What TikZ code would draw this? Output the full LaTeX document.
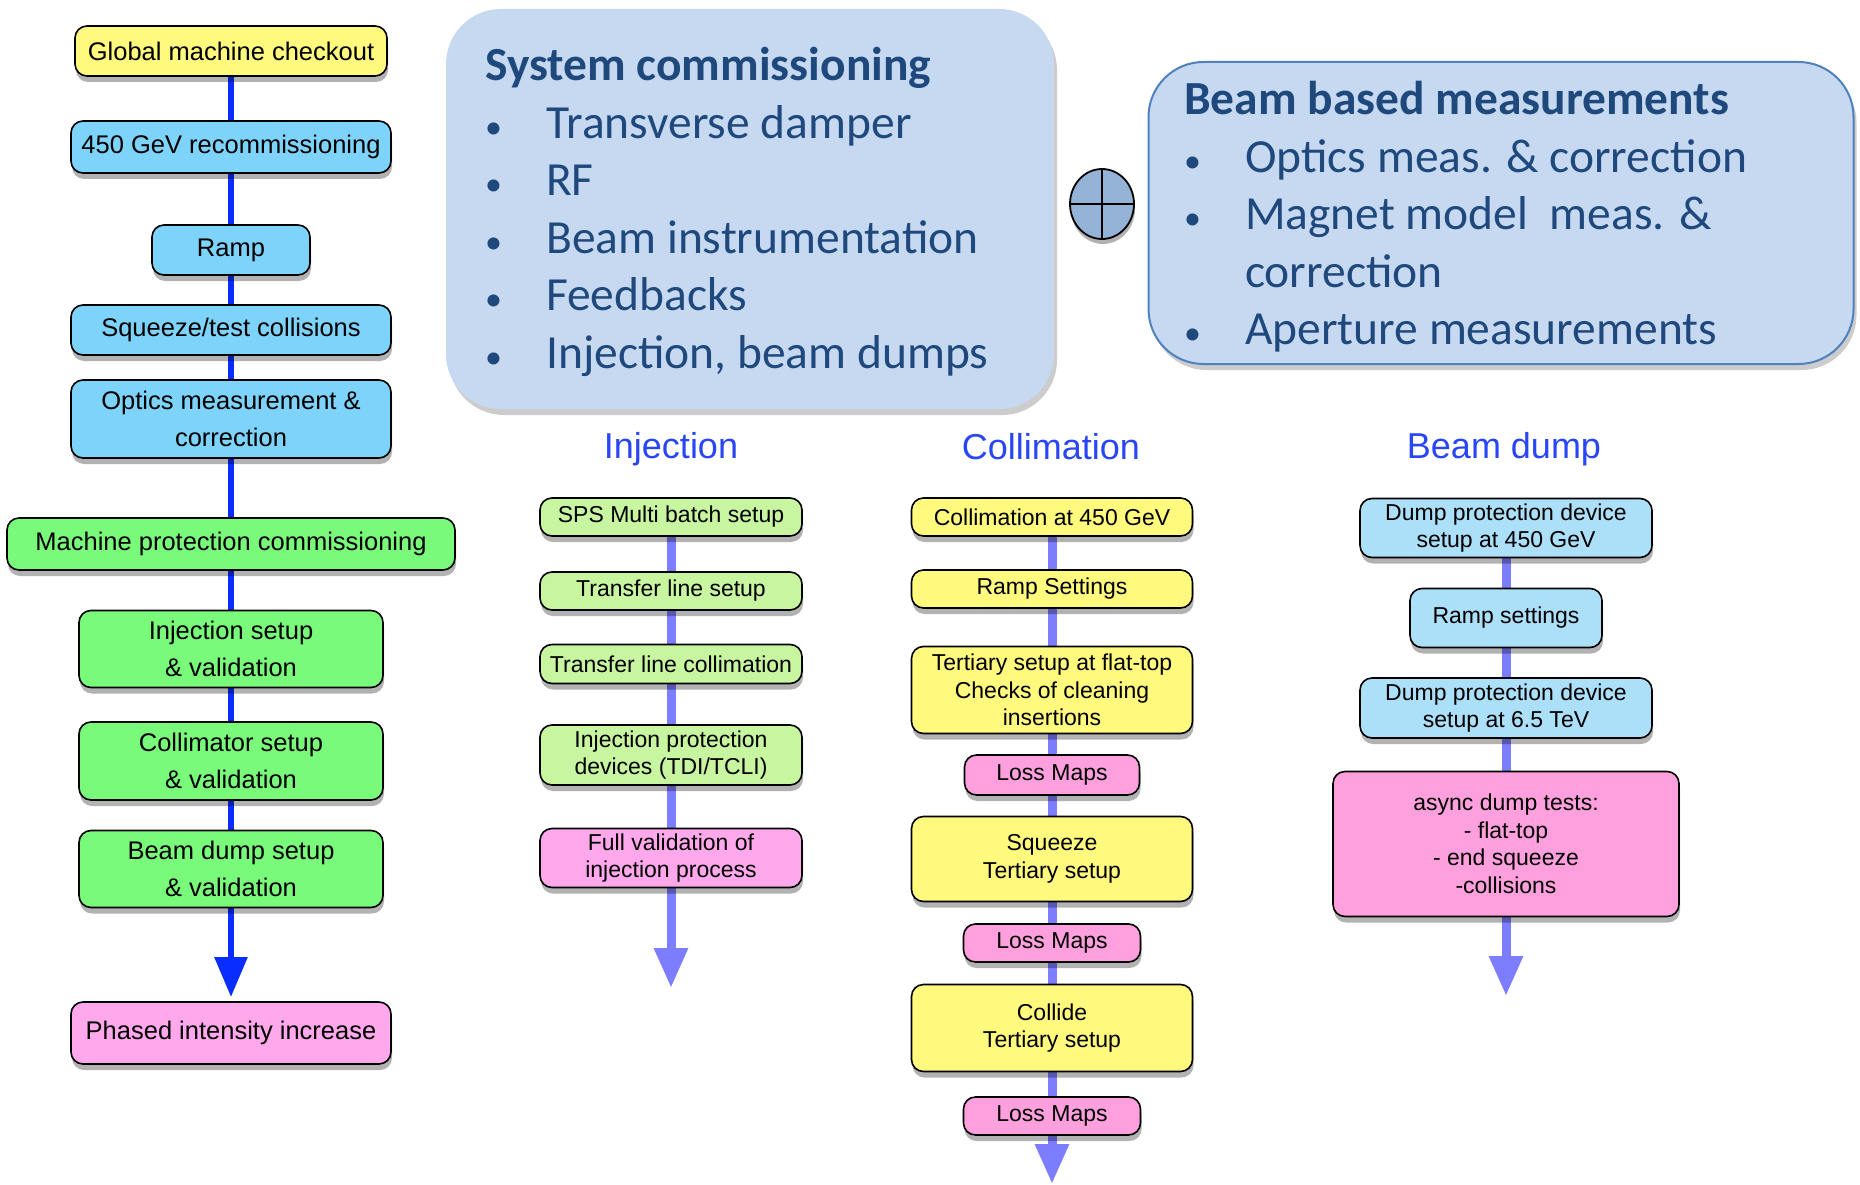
\documentclass[tikz,border=0pt]{standalone}
\usepackage{fontspec}
\setmainfont{Liberation Sans}
\newfontfamily\calibri{Carlito}
\usetikzlibrary{backgrounds}
\usetikzlibrary{positioning}
\usetikzlibrary{arrows.meta}
\usetikzlibrary{shadows}
\usetikzlibrary{shapes.geometric}
\definecolor{yel}{RGB}{255,250,125}
\definecolor{sky}{RGB}{125,211,250}
\definecolor{palesky}{RGB}{172,223,248}
\definecolor{grn}{RGB}{122,250,122}
\definecolor{palegrn}{RGB}{200,245,160}
\definecolor{pnk}{RGB}{255,168,236}
\definecolor{loss}{RGB}{255,160,222}
\definecolor{deepline}{RGB}{10,45,255}
\definecolor{softline}{RGB}{125,125,255}
\definecolor{panelfill}{RGB}{198,217,241}
\definecolor{panelrim}{RGB}{79,129,189}
\definecolor{navy}{RGB}{31,73,125}
\definecolor{headblue}{RGB}{40,70,245}
\definecolor{plusfill}{RGB}{149,179,215}
\newcommand{\dotitem}{\makebox[61pt][l]{\fontsize{34}{34}\selectfont\textbullet}}

\begin{document}
\begin{tikzpicture}[
            x = 1pt, y = -1pt, % one unit per pixel, y downwards
            > = {Triangle[length=40pt, width=32pt]}, % arrow head style
            line cap = butt
        ]

        \tikzstyle{stage}=[
            draw, line width = 1.6pt,
            rounded corners = 12pt,
            align = center, inner sep = 0pt,
            drop shadow = {fill=black, opacity=0.3, shadow xshift=1pt, shadow yshift=-6pt}
        ]
        \tikzstyle{lstage}=[stage, font=\fontsize{25.5}{37}\selectfont]
        \tikzstyle{rstage}=[stage, font=\fontsize{23}{27.5}\selectfont]
        \tikzstyle{head}=[text=headblue, font=\fontsize{36}{36}\selectfont]
        \tikzstyle{panel}=[
            rounded corners = 55pt, fill = panelfill, inner sep = 0pt,
            drop shadow = {fill=black, opacity=0.2, shadow xshift=3pt, shadow yshift=-6pt}
        ]
        \tikzstyle{lines}=[anchor=west, align=left, inner sep=0pt, text=navy,
            font=\calibri\fontsize{47.5}{57.5}\selectfont]
        \tikzstyle{deep}=[deepline, line width=6pt]
        \tikzstyle{soft}=[softline, line width=9pt]

        \useasboundingbox (0,0) rectangle (1860,1185);

        % overall sequence
        \node[lstage, fill=yel, minimum width=312pt, minimum height=50pt] (GMC) at (231,51) {Global machine checkout};
        \node[lstage, fill=sky, minimum width=320pt, minimum height=52pt] (RC) at (231,147) {450 GeV recommissioning};
        \node[lstage, fill=sky, minimum width=158pt, minimum height=50pt] (RP) at (231,250) {Ramp};
        \node[lstage, fill=sky, minimum width=320pt, minimum height=50pt] (SQ) at (231,330) {Squeeze/test collisions};
        \node[lstage, fill=sky, minimum width=320pt, minimum height=78pt] (OM) at (231,419) {Optics measurement \&\\correction};
        \node[lstage, fill=grn, minimum width=448pt, minimum height=52pt] (MP) at (231,544) {Machine protection commissioning};
        \node[lstage, fill=grn, minimum width=304pt, minimum height=77pt] (IS) at (231,649) {Injection setup\\\& validation};
        \node[lstage, fill=grn, minimum width=304pt, minimum height=78pt] (CS) at (231,761) {Collimator setup\\\& validation};
        \node[lstage, fill=grn, minimum width=304pt, minimum height=77pt] (BS) at (231,869) {Beam dump setup\\\& validation};
        \node[lstage, fill=pnk, minimum width=320pt, minimum height=62pt] (PI) at (231,1033) {Phased intensity increase};
        \coordinate (LE) at (231,997);

        % system and beam based panels
        \node[panel, minimum width=608pt, minimum height=400pt] (SC) at (750,209) {};
        \node[lines] (SCT) at (485,212) {{\bfseries System commissioning}\\
            \dotitem Transverse damper\\
            \dotitem RF\\
            \dotitem Beam instrumentation\\
            \dotitem Feedbacks\\
            \dotitem Injection, beam dumps};

        \node[ellipse, draw, line width=1.8pt, fill=plusfill, minimum width=64pt, minimum height=70pt, inner sep=0pt,
            drop shadow={fill=black, opacity=0.3, shadow xshift=1pt, shadow yshift=-5pt}] (PL) at (1102,204) {};
        \draw[line width=1.8pt] (PL.north) -- (PL.south) (PL.west) -- (PL.east);

        \node[panel, draw=panelrim, line width=2pt, minimum width=705pt, minimum height=302pt] (BB) at (1501,213) {};
        \node[lines] (BBT) at (1184,217) {{\bfseries Beam based measurements}\\
            \dotitem Optics meas. \& correction\\
            \dotitem Magnet model~ meas. \&\\
            \hspace*{61pt}correction\\
            \dotitem Aperture measurements};

        % injection
        \node[head] (HI) at (671,449) {Injection};
        \node[rstage, fill=palegrn, minimum width=262pt, minimum height=38pt] (SP) at (671,517) {SPS Multi batch setup};
        \node[rstage, fill=palegrn, minimum width=262pt, minimum height=38pt] (TL) at (671,591) {Transfer line setup};
        \node[rstage, fill=palegrn, minimum width=262pt, minimum height=39pt] (TC) at (671,664) {Transfer line collimation};
        \node[rstage, fill=palegrn, minimum width=262pt, minimum height=60pt] (IP) at (671,755) {Injection protection\\devices (TDI/TCLI)};
        \node[rstage, fill=pnk, minimum width=262pt, minimum height=59pt] (FV) at (671,858) {Full validation of\\injection process};
        \coordinate (IE) at (671,988);

        % collimation
        \node[head] (HC) at (1051,447) {Collimation};
        \node[rstage, fill=yel, minimum width=281pt, minimum height=38pt] (CA) at (1052,517) {Collimation at 450 GeV};
        \node[rstage, fill=yel, minimum width=281pt, minimum height=38pt] (CR) at (1052,589) {Ramp Settings};
        \node[rstage, fill=yel, minimum width=281pt, minimum height=87pt] (CT) at (1052,690) {Tertiary setup at flat-top\\Checks of cleaning\\insertions};
        \node[rstage, fill=loss, minimum width=175pt, minimum height=40pt] (L1) at (1052,775) {Loss Maps};
        \node[rstage, fill=yel, minimum width=281pt, minimum height=85pt] (CQ) at (1052,859) {Squeeze\\Tertiary setup};
        \node[rstage, fill=loss, minimum width=177pt, minimum height=38pt] (L2) at (1052,943) {Loss Maps};
        \node[rstage, fill=yel, minimum width=281pt, minimum height=87pt] (CC) at (1052,1028) {Collide\\Tertiary setup};
        \node[rstage, fill=loss, minimum width=177pt, minimum height=38pt] (L3) at (1052,1116) {Loss Maps};
        \coordinate (CE) at (1052,1184);

        % beam dump
        \node[head] (HD) at (1504,449) {Beam dump};
        \node[rstage, fill=palesky, minimum width=292pt, minimum height=59pt] (DA) at (1506,528) {Dump protection device\\setup at 450 GeV};
        \node[rstage, fill=palesky, minimum width=192pt, minimum height=59pt] (DR) at (1506,618) {Ramp settings};
        \node[rstage, fill=palesky, minimum width=292pt, minimum height=60pt] (DT) at (1506,708) {Dump protection device\\setup at 6.5 TeV};
        \node[rstage, fill=loss, minimum width=346pt, minimum height=145pt] (DX) at (1506,844) {async dump tests:\\- flat-top\\- end squeeze\\-collisions};
        \coordinate (DE) at (1506,996);

        \begin{scope}[on background layer]
        \path[deep] (GMC) edge (RC) (RC) edge (RP) (RP) edge (SQ) (SQ) edge (OM)
            (OM) edge (MP) (MP) edge (IS) (IS) edge (CS) (CS) edge (BS);
        \path[deep, ->] (BS) edge (LE);

        \path[soft] (SP) edge (TL) (TL) edge (TC) (TC) edge (IP) (IP) edge (FV);
        \path[soft, ->] (FV) edge (IE);

        \path[soft] (CA) edge (CR) (CR) edge (CT) (CT) edge (L1) (L1) edge (CQ)
            (CQ) edge (L2) (L2) edge (CC) (CC) edge (L3);
        \path[soft, ->] (L3) edge (CE);

        \path[soft] (DA) edge (DR) (DR) edge (DT) (DT) edge (DX);
        \path[soft, ->] (DX) edge (DE);
        \end{scope}

\end{tikzpicture}
\end{document}
